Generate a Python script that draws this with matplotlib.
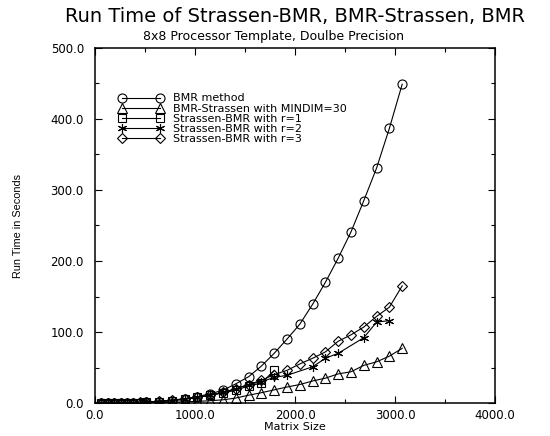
import matplotlib
matplotlib.use("Agg")
import matplotlib.pyplot as plt
from matplotlib.ticker import MultipleLocator, FormatStrFormatter

plt.rcParams['font.family'] = ['DejaVu Sans']

# Matrix sizes
bmr_x = [64, 128, 192, 256, 320, 384, 448, 512, 640, 768, 896, 1024, 1152, 1280, 1408,
         1536, 1664, 1792, 1920, 2048, 2176, 2304, 2432, 2560, 2688, 2816, 2944, 3072]
bmr_y = [0.0, 0.1, 0.1, 0.2, 0.3, 0.5, 0.7, 1.0, 2.0, 3.5, 6, 9, 13, 18, 27,
         37, 52, 70, 90, 111, 139, 170, 204, 241, 285, 331, 387, 449]

bs_x = [64, 128, 192, 256, 320, 384, 448, 512, 640, 768, 896, 1024, 1152, 1280, 1408,
        1536, 1664, 1792, 1920, 2048, 2176, 2304, 2432, 2560, 2688, 2816, 2944, 3072]
bs_y = [0.0, 0.0, 0.0, 0.1, 0.1, 0.2, 0.2, 0.3, 0.6, 1.0, 1.6, 2.3, 3.2, 4.5, 7,
        11, 14.5, 18.5, 22.5, 26, 31, 35, 41, 44, 53, 58, 66, 77]

r1_x = [64, 128, 192, 256, 320, 384, 448, 512, 640, 768, 896, 1024, 1152, 1280, 1408,
        1536, 1664, 1792]
r1_y = [0.0, 0.1, 0.1, 0.2, 0.3, 0.4, 0.6, 1.0, 2.0, 3.5, 5.5, 8, 11, 14, 18,
        24, 28, 46]

r2_x = [64, 128, 192, 256, 320, 384, 448, 512, 640, 768, 896, 1024, 1152, 1280, 1408,
        1536, 1664, 1792, 1920, 2176, 2304, 2432, 2688, 2816, 2944]
r2_y = [0.0, 0.1, 0.1, 0.2, 0.3, 0.4, 0.6, 1.0, 2.0, 3.5, 5, 8, 11, 15, 20,
        26, 30, 36, 39, 51, 63, 70, 92, 114, 116]

r3_x = [64, 128, 192, 256, 320, 384, 448, 512, 640, 768, 896, 1024, 1152, 1280, 1408,
        1536, 1664, 1792, 1920, 2048, 2176, 2304, 2432, 2560, 2688, 2816, 2944, 3072]
r3_y = [0.0, 0.1, 0.2, 0.3, 0.4, 0.6, 0.9, 1.5, 2.5, 4, 6, 8, 11, 15, 20,
        26, 32, 40, 46, 55, 63, 72, 87, 96, 107, 122, 135, 165]

labels = ["BMR method", "BMR-Strassen with MINDIM=30", "Strassen-BMR with r=1",
          "Strassen-BMR with r=2", "Strassen-BMR with r=3"]

title = "Run Time of Strassen-BMR, BMR-Strassen, BMR"
subtitle = "8x8 Processor Template, Doulbe Precision"

fig = plt.figure(figsize=(5.5, 4.36), dpi=100)
ax = fig.add_axes([95/550, 33/436, 400/550, 355/436])

asterisk = (6, 2, 0)
series = [(bmr_x, bmr_y, 'o'), (bs_x, bs_y, '^'), (r1_x, r1_y, 's'),
          (r2_x, r2_y, asterisk), (r3_x, r3_y, 'D')]
msizes = [6.5, 6.5, 5.5, 6.5, 4.8]
for (xs, ys, m), lab, ms in zip(series, labels, msizes):
    ax.plot(xs, ys, color='black', lw=0.8, marker=m, markersize=ms,
            markerfacecolor='none', markeredgecolor='black', markeredgewidth=0.8,
            label=lab)

ax.set_xlim(0, 4000)
ax.set_ylim(0, 500)
ax.xaxis.set_major_locator(MultipleLocator(1000))
ax.xaxis.set_minor_locator(MultipleLocator(500))
ax.yaxis.set_major_locator(MultipleLocator(100))
ax.yaxis.set_minor_locator(MultipleLocator(50))
ax.xaxis.set_major_formatter(FormatStrFormatter('%.1f'))
ax.yaxis.set_major_formatter(FormatStrFormatter('%.1f'))
ax.tick_params(which='both', direction='in', top=True, right=True, labelsize=8.5, width=0.8)
ax.tick_params(which='major', length=5)
ax.tick_params(axis='y', which='major', pad=8)
ax.tick_params(axis='x', which='major', pad=4)
ax.tick_params(which='minor', length=3)
for s in ax.spines.values():
    s.set_linewidth(1.1)

ax.set_xlabel("Matrix Size", fontsize=8, labelpad=0)
ax.set_ylabel("Run Time in Seconds", fontsize=7.8,
              family=['Liberation Sans Narrow', 'Liberation Sans', 'DejaVu Sans'])
ax.yaxis.set_label_coords(-0.18, 0.5)

leg = ax.legend(loc='upper left', bbox_to_anchor=(0.06, 0.872), frameon=False,
                fontsize=8, handlelength=4.0, handletextpad=0.9, numpoints=2,
                labelspacing=0.02, borderpad=0, borderaxespad=0)

fig.text(0.537, 0.963, title, ha='center', va='center', fontsize=14)
fig.text(0.497, 0.917, subtitle, ha='center', va='center', fontsize=9)

fig.savefig("out.png", dpi=100)
